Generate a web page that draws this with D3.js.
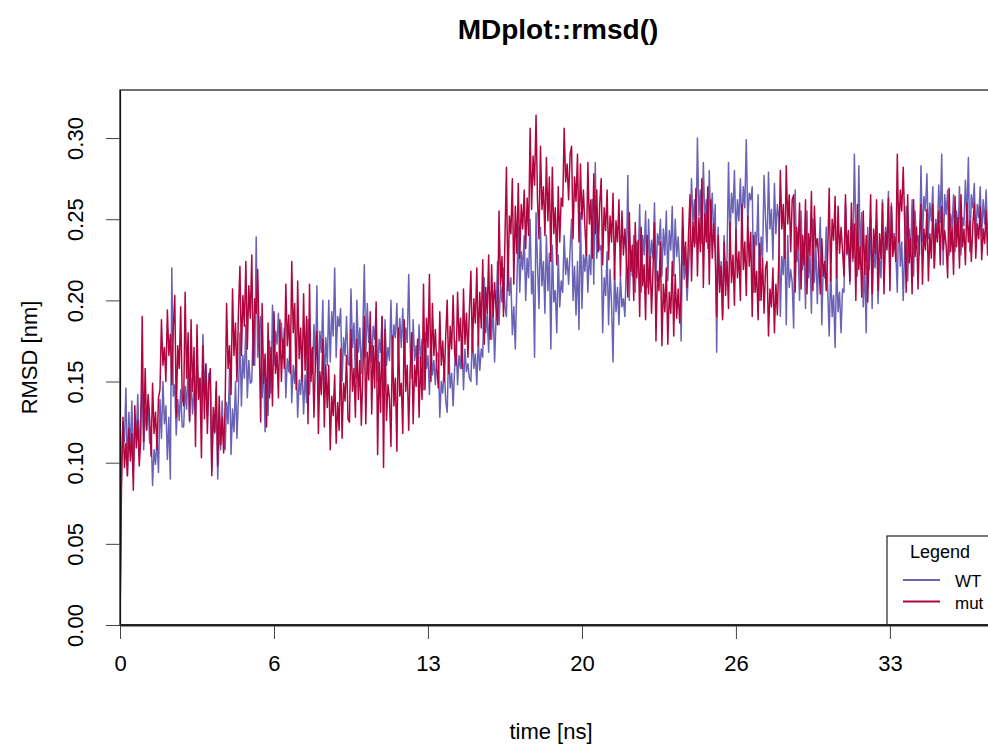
<!DOCTYPE html>
<html>
<head>
<meta charset="utf-8">
<script src="https://cdn.jsdelivr.net/npm/d3@7"></script>
<style>
  body { margin: 0; background: #fff; }
  svg { display: block; }
  text { font-family: "Liberation Sans", Arial, Helvetica, sans-serif; fill: #000; }
</style>
</head>
<body>
<svg id="chart" width="988" height="744"></svg>
<script>
// Trajectory sampling interval (ns between stored frames)
const timeStep = 0.0625;

// Backbone RMSD per frame, nm
const rmsdWT = [0.000,
0.098,0.125,0.113,0.146,0.092,0.131,0.107,0.138,0.095,0.122,0.116,0.142,0.104,0.129,
0.150,0.108,0.133,0.121,0.139,0.112,
0.120,0.086,0.108,0.099,0.115,0.094,
0.139,0.115,0.150,0.124,0.135,0.102,0.128,0.090,0.220,0.141,
0.148,0.117,0.139,0.126,0.145,0.122,
0.122,0.147,0.133,0.160,0.125,0.152,0.130,0.144,
0.130,0.165,0.141,0.152,0.135,0.179,0.146,0.160,0.128,0.155,
0.150,0.095,0.129,0.118,0.145,0.090,0.121,0.108,0.138,0.112,
0.108,0.137,0.124,0.158,0.105,0.133,0.119,0.150,0.115,0.141,
0.180,0.135,0.166,0.152,0.185,0.140,0.163,0.149,
0.150,0.187,0.160,0.239,0.165,0.182,
0.190,0.140,0.161,0.119,0.152,0.129,0.175,0.143,
0.197,0.160,0.181,0.173,0.192,0.165,0.186,0.168,
0.183,0.140,0.164,0.156,0.178,0.137,0.160,0.149,
0.166,0.128,0.151,0.142,0.160,0.130,0.154,0.137,
0.188,0.142,0.170,0.155,0.185,0.161,
0.209,0.140,0.181,0.168,0.200,0.145,0.177,0.160,
0.200,0.162,0.193,0.178,0.220,0.165,0.190,0.184,
0.195,0.150,0.177,0.166,0.190,0.161,
0.160,0.207,0.171,0.186,0.152,0.200,0.168,0.183,0.155,0.179,
0.222,0.165,0.198,0.174,0.185,0.162,0.184,0.176,
0.195,0.150,0.176,0.168,0.190,0.145,0.188,0.160,0.171,0.163,
0.200,0.162,0.185,0.177,0.198,0.165,0.189,0.171,
0.195,0.162,0.183,0.174,0.216,0.170,
0.152,0.188,0.163,0.172,0.155,0.185,0.161,0.176,
0.145,0.180,0.158,0.166,0.142,0.175,0.154,0.163,0.148,0.168,
0.166,0.128,0.150,0.143,0.160,0.138,
0.131,0.172,0.146,0.155,0.135,0.158,
0.175,0.148,0.166,0.158,0.178,0.145,0.170,0.156,0.161,0.152,
0.150,0.180,0.158,0.167,0.148,0.176,0.157,0.170,
0.165,0.214,0.180,0.192,0.168,0.205,0.176,0.197,0.162,0.189,
0.224,0.185,0.210,0.199,0.220,0.196,
0.190,0.228,0.203,0.214,0.179,0.196,0.170,0.208,
0.245,0.205,0.230,0.219,0.240,0.200,0.226,0.214,
0.250,0.204,0.218,0.165,0.254,0.222,
0.195,0.245,0.209,0.224,0.192,0.240,0.206,0.229,
0.170,0.234,0.199,0.206,0.180,0.228,0.196,0.212,
0.205,0.240,0.216,0.226,0.210,0.231,
0.250,0.200,0.221,0.191,0.224,0.182,0.254,0.195,0.228,0.218,
0.235,0.205,0.228,0.216,0.262,0.210,0.285,0.226,0.240,0.231,
0.234,0.180,0.214,0.203,0.230,0.185,0.219,0.198,
0.162,0.220,0.193,0.208,0.185,0.215,0.196,0.201,0.190,0.222,
0.277,0.200,0.231,0.215,0.240,0.205,0.236,0.224,
0.259,0.205,0.240,0.228,0.255,0.208,0.250,0.221,0.237,0.226,
0.260,0.212,0.241,0.234,0.250,0.215,0.244,0.228,
0.255,0.212,0.243,0.231,0.258,0.215,0.250,0.227,0.239,0.221,
0.175,0.245,0.213,0.226,0.200,0.219,
0.240,0.275,0.248,0.262,0.235,0.300,0.252,0.268,
0.235,0.285,0.249,0.262,0.232,0.280,0.246,0.266,0.238,0.259,
0.168,0.245,0.209,0.224,0.190,0.240,0.215,0.227,
0.285,0.236,0.266,0.254,0.280,0.238,0.262,0.249,
0.275,0.245,0.270,0.257,0.299,0.248,0.266,0.262,
0.270,0.205,0.242,0.234,0.265,0.200,0.239,0.226,0.277,0.250,
0.230,0.279,0.244,0.256,0.225,0.272,0.241,0.259,
0.250,0.190,0.227,0.216,0.245,0.185,0.240,0.208,0.219,0.211,
0.183,0.268,0.224,0.231,0.200,0.255,0.219,0.236,
0.195,0.255,0.214,0.228,0.192,0.250,0.211,0.233,0.198,0.229,
0.251,0.185,0.222,0.214,0.245,0.206,
0.178,0.220,0.190,0.203,0.171,0.224,0.193,0.205,0.180,0.207,
0.205,0.260,0.228,0.236,0.210,0.249,0.224,0.290,
0.241,0.215,0.283,0.226,0.254,0.196,0.222,0.180,0.245,0.219,
0.251,0.195,0.231,0.220,0.248,0.198,0.226,0.214,
0.262,0.212,0.245,0.233,0.267,0.215,0.260,0.238,0.241,0.229,
0.205,0.260,0.221,0.236,0.200,0.232,
0.258,0.212,0.244,0.230,0.262,0.215,0.255,0.236,0.240,0.228,
0.283,0.236,0.264,0.255,0.278,0.238,0.260,0.249,
0.270,0.220,0.250,0.241,0.271,0.248,0.290,0.222,0.265,0.253,
0.268,0.228,0.253,0.245,0.265,0.230,0.255,0.240,
0.270,0.228,0.251,0.246,0.274,0.249,0.288,0.230,0.265,0.257,
0.272,0.238,0.259,0.251,0.270,0.240,0.262,0.247,0.268,0.236,0.254,0.245];

const rmsdMut = [0.000,
0.085,0.128,0.097,0.112,0.092,0.121,0.101,0.118,0.083,0.135,0.109,0.126,0.098,0.114,
0.190,0.113,0.158,0.120,0.142,0.128,
0.104,0.149,0.118,0.131,0.108,0.140,
0.145,0.188,0.160,0.171,0.150,0.194,0.166,0.179,0.148,0.183,
0.203,0.128,0.172,0.158,0.196,0.141,
0.135,0.205,0.152,0.180,0.126,0.188,0.144,0.171,
0.110,0.185,0.139,0.152,0.103,0.172,0.127,0.161,0.118,0.149,
0.158,0.092,0.134,0.119,0.150,0.098,0.141,0.111,0.128,0.106,
0.135,0.198,0.158,0.172,0.142,0.207,0.166,0.186,0.150,0.193,
0.221,0.166,0.203,0.184,0.224,0.170,0.209,0.189,
0.228,0.160,0.201,0.192,0.219,0.175,
0.125,0.198,0.149,0.167,0.122,0.186,0.140,0.171,
0.135,0.193,0.155,0.168,0.140,0.188,0.150,0.176,
0.158,0.210,0.172,0.191,0.155,0.224,0.180,0.198,
0.145,0.212,0.164,0.183,0.150,0.204,0.157,0.190,
0.124,0.210,0.150,0.171,0.128,0.163,
0.181,0.118,0.156,0.142,0.176,0.122,0.160,0.134,
0.160,0.108,0.141,0.129,0.154,0.112,0.137,0.120,
0.170,0.115,0.149,0.138,0.166,0.127,
0.125,0.182,0.144,0.158,0.128,0.176,0.139,0.163,0.123,0.154,
0.190,0.124,0.168,0.151,0.193,0.130,0.172,0.146,
0.199,0.105,0.162,0.131,0.190,0.097,0.182,0.126,0.148,0.140,
0.110,0.178,0.135,0.152,0.107,0.183,0.141,0.149,
0.118,0.188,0.144,0.160,0.120,0.158,
0.180,0.124,0.160,0.147,0.176,0.128,0.165,0.139,
0.210,0.145,0.189,0.171,0.216,0.150,0.198,0.166,0.182,0.158,
0.146,0.193,0.160,0.175,0.150,0.178,
0.200,0.155,0.184,0.170,0.203,0.168,
0.160,0.205,0.175,0.189,0.158,0.207,0.173,0.192,0.165,0.194,
0.218,0.168,0.201,0.186,0.220,0.172,0.205,0.183,
0.225,0.173,0.208,0.192,0.228,0.176,0.222,0.190,0.211,0.195,
0.185,0.255,0.210,0.227,0.190,0.238,
0.282,0.206,0.252,0.241,0.275,0.210,0.258,0.229,
0.272,0.226,0.259,0.244,0.268,0.232,0.263,0.240,
0.306,0.256,0.289,0.271,0.314,0.262,
0.238,0.295,0.256,0.270,0.240,0.288,0.249,0.276,
0.224,0.282,0.241,0.257,0.222,0.270,0.236,0.263,
0.258,0.306,0.273,0.284,0.262,0.290,
0.295,0.238,0.276,0.261,0.290,0.236,0.284,0.250,0.268,0.245,
0.228,0.285,0.247,0.262,0.226,0.278,0.241,0.268,0.230,0.259,
0.275,0.222,0.257,0.243,0.268,0.225,0.252,0.236,
0.266,0.213,0.249,0.236,0.262,0.215,0.255,0.228,0.244,0.226,
0.202,0.254,0.218,0.234,0.200,0.248,0.214,0.237,
0.190,0.245,0.209,0.222,0.188,0.240,0.204,0.227,0.192,0.219,
0.248,0.175,0.218,0.206,0.236,0.172,0.210,0.193,
0.220,0.173,0.205,0.192,0.224,0.178,0.216,0.189,0.207,0.186,
0.205,0.257,0.222,0.236,0.208,0.241,
0.265,0.212,0.248,0.233,0.269,0.215,0.251,0.230,
0.275,0.208,0.253,0.236,0.270,0.210,0.262,0.226,0.247,0.229,
0.190,0.240,0.205,0.221,0.188,0.236,0.203,0.224,
0.195,0.248,0.211,0.228,0.197,0.244,0.214,0.230,
0.200,0.259,0.219,0.236,0.203,0.252,0.221,0.242,
0.190,0.240,0.205,0.218,0.188,0.235,0.200,0.226,0.192,0.220,
0.224,0.178,0.207,0.196,0.220,0.180,0.210,0.191,
0.228,0.280,0.244,0.259,0.226,0.283,0.247,0.265,0.230,0.262,
0.265,0.205,0.245,0.231,0.260,0.207,0.240,0.222,
0.262,0.204,0.241,0.228,0.267,0.206,0.258,0.233,0.238,0.225,
0.204,0.238,0.215,0.224,0.206,0.229,
0.269,0.212,0.250,0.237,0.264,0.214,0.258,0.229,0.245,0.231,
0.215,0.265,0.229,0.243,0.212,0.260,0.226,0.247,
0.200,0.259,0.219,0.233,0.202,0.255,0.216,0.240,0.199,0.231,
0.265,0.204,0.244,0.229,0.262,0.206,0.241,0.226,
0.260,0.204,0.242,0.231,0.263,0.206,0.258,0.227,0.239,0.224,
0.290,0.236,0.268,0.255,0.282,0.247,
0.205,0.265,0.223,0.238,0.204,0.262,0.227,0.245,0.207,0.240,
0.259,0.210,0.244,0.231,0.256,0.212,0.241,0.226,
0.259,0.220,0.247,0.236,0.255,0.222,0.258,0.231,0.243,0.234,
0.214,0.269,0.230,0.245,0.216,0.264,0.233,0.251,
0.220,0.265,0.233,0.244,0.222,0.260,0.236,0.249,0.224,0.246,
0.260,0.226,0.247,0.238,0.258,0.225,0.244,0.235,0.255,0.228,0.249,0.237];

const seriesNames = ["WT", "mut"];
const seriesValues = [rmsdWT, rmsdMut];
const seriesColors = ["#6A62B5", "#B0063F"];

const xTickValues = [0, 6.5, 13, 19.5, 26, 32.5];
const xTickLabels = ["0", "6", "13", "20", "26", "33"];
const yTickValues = [0, 0.05, 0.10, 0.15, 0.20, 0.25, 0.30];
const yTickLabels = ["0.00", "0.05", "0.10", "0.15", "0.20", "0.25", "0.30"];

const titleText = "MDplot::rmsd()";
const xTitle = "time [ns]";
const yTitle = "RMSD [nm]";

// ---- layout ----
const plot = { left: 120, top: 90, right: 996.5, bottom: 625 };
const svg = d3.select("#chart");

const x = d3.scaleLinear().domain([0, 37]).range([plot.left, plot.right]);
const y = d3.scaleLinear().domain([0, 0.3296]).range([plot.bottom, plot.top]);

svg.append("defs").append("clipPath").attr("id", "plotClip")
  .append("rect")
  .attr("x", plot.left).attr("y", plot.top)
  .attr("width", plot.right - plot.left).attr("height", plot.bottom - plot.top);

// ---- series ----
const line = d3.line()
  .x((d, i) => x(i * timeStep))
  .y(d => y(d));

const traces = svg.append("g").attr("clip-path", "url(#plotClip)");
seriesValues.forEach((vals, k) => {
  traces.append("path")
    .datum(vals)
    .attr("d", line)
    .attr("fill", "none")
    .attr("stroke", seriesColors[k])
    .attr("stroke-width", 1.5)
    .attr("stroke-linejoin", "round");
});

// ---- frame ----
svg.append("rect")
  .attr("x", plot.left).attr("y", plot.top)
  .attr("width", plot.right - plot.left).attr("height", plot.bottom - plot.top)
  .attr("fill", "none").attr("stroke", "#111").attr("stroke-width", 1.2);

// ---- axes ----
const xAxis = svg.append("g")
  .attr("transform", `translate(0,${plot.bottom})`)
  .call(d3.axisBottom(x)
    .tickValues(xTickValues)
    .tickFormat((d, i) => xTickLabels[i])
    .tickSize(14)
    .tickSizeOuter(0)
    .tickPadding(16));
xAxis.select(".domain").attr("stroke", "#222").attr("stroke-width", 2.2);
xAxis.selectAll(".tick line").attr("stroke", "#444").attr("stroke-width", 1);
xAxis.selectAll(".tick text")
  .attr("font-size", 22).attr("font-family", "Liberation Sans, Arial, sans-serif")
  .attr("fill", "#000");

const yAxis = svg.append("g")
  .attr("transform", `translate(${plot.left},0)`)
  .call(d3.axisLeft(y)
    .tickValues(yTickValues)
    .tickFormat((d, i) => yTickLabels[i])
    .tickSize(14)
    .tickSizeOuter(0));
yAxis.select(".domain").attr("stroke", "#111").attr("stroke-width", 1.2);
yAxis.selectAll(".tick line").attr("stroke", "#444").attr("stroke-width", 1);
yAxis.selectAll(".tick text")
  .attr("font-size", 22).attr("font-family", "Liberation Sans, Arial, sans-serif")
  .attr("fill", "#000")
  .attr("transform", "rotate(-90)")
  .attr("text-anchor", "middle")
  .attr("x", 0).attr("y", -37).attr("dy", 0);

// ---- titles ----
svg.append("text")
  .attr("x", 558).attr("y", 39)
  .attr("text-anchor", "middle")
  .attr("font-size", 28).attr("font-weight", "bold")
  .text(titleText);

svg.append("text")
  .attr("x", 551).attr("y", 739)
  .attr("text-anchor", "middle")
  .attr("font-size", 22)
  .text(xTitle);

svg.append("text")
  .attr("transform", `translate(37,${(plot.top + plot.bottom) / 2}) rotate(-90)`)
  .attr("text-anchor", "middle")
  .attr("font-size", 22)
  .text(yTitle);

// ---- legend ----
const legend = svg.append("g");
legend.append("rect")
  .attr("x", 887).attr("y", 536)
  .attr("width", 108).attr("height", plot.bottom - 536)
  .attr("fill", "#fff").attr("stroke", "#222").attr("stroke-width", 1.2);
legend.append("text")
  .attr("x", 940).attr("y", 558)
  .attr("text-anchor", "middle")
  .attr("font-size", 18)
  .text("Legend");
seriesNames.forEach((name, k) => {
  const ly = 580 + k * 21.5;
  legend.append("line")
    .attr("x1", 903).attr("x2", 940)
    .attr("y1", ly).attr("y2", ly)
    .attr("stroke", seriesColors[k]).attr("stroke-width", 2);
  legend.append("text")
    .attr("x", 955).attr("y", ly + 7)
    .attr("font-size", 17)
    .text(name);
});
// axis line drawn again over the legend's lower edge
svg.append("line")
  .attr("x1", plot.left).attr("x2", plot.right)
  .attr("y1", plot.bottom).attr("y2", plot.bottom)
  .attr("stroke", "#222").attr("stroke-width", 2.2);
</script>
</body>
</html>
